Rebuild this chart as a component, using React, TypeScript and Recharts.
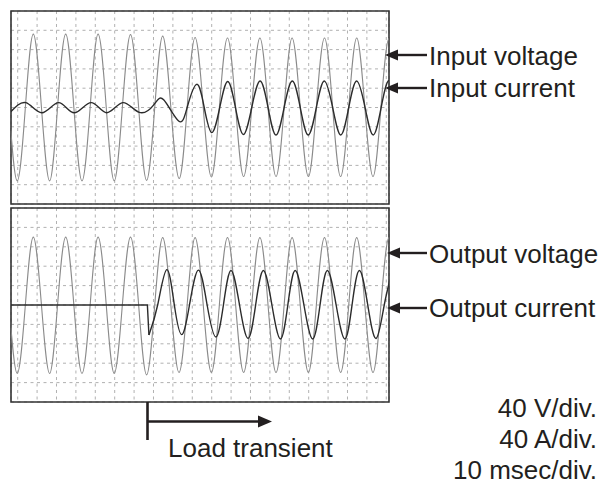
import React from 'react';
import { LineChart, Line, XAxis, YAxis, CartesianGrid, ReferenceArea } from 'recharts';

type Pt = [number, number];

// time in ms (10 ms/div), voltage in V (40 V/div), current in A (40 A/div)
const inputVoltage: Pt[] = [
  [-1.0, 0], [3.2, -152], [7.4, 0], [11.5, 152], [15.7, 0], [19.9, -152], [24.0, 0], [28.2, 152],
  [32.4, 0], [36.6, -152], [40.8, 0], [44.9, 152], [49.1, 0], [53.2, -152], [57.4, 0], [61.6, 151],
  [65.8, 0], [69.9, -151], [74.1, 0], [78.2, 148], [82.4, 0], [86.7, -147], [90.8, 0], [94.9, 145],
  [99.1, 0], [103.3, -144], [107.4, 0], [111.6, 144], [115.8, 0], [119.9, -143], [124.1, 0], [128.3, 144],
  [132.5, 0], [136.6, -143], [140.8, 0], [144.9, 144], [149.1, 0], [153.3, -143], [157.4, 0], [161.6, 144],
  [165.8, 0], [169.9, -143], [174.1, 0], [178.2, 144], [182.4, 0], [186.6, -143], [190.7, 0], [194.9, 143],
  [199.0, 0],
];

const inputCurrent: Pt[] = [
  [-0.6, -11], [7.7, 10], [16.0, -11], [24.6, 10], [32.6, -11], [41.3, 10], [49.3, -11], [57.6, 10],
  [66.1, -10], [73.7, 6], [78.7, 16], [86.4, -28], [90.8, 0], [95.7, 48], [99.6, 0], [103.5, -52],
  [107.6, 0], [111.7, 54], [115.7, 0], [119.8, -56], [124.1, 0], [128.4, 55], [132.5, 0], [136.6, -57],
  [140.8, 0], [145.0, 55], [149.1, 0], [153.2, -57], [157.4, 0], [161.5, 55], [165.8, 0], [170.0, -57],
  [174.1, 0], [178.2, 55], [182.5, 0], [186.7, -57], [190.8, 0], [194.9, 56], [199.0, 0],
];

const outputVoltage: Pt[] = [
  [-1.0, 0], [3.2, -141], [7.4, 0], [11.5, 140], [15.7, 0], [19.9, -141], [24.0, 0], [28.2, 140],
  [32.4, 0], [36.6, -141], [40.8, 0], [44.9, 140], [49.1, 0], [53.2, -141], [57.4, 0], [61.6, 140],
  [65.8, 0], [69.9, -144], [74.1, 0], [78.2, 139], [82.4, 0], [86.6, -139], [90.8, 0], [94.9, 139],
  [99.1, 0], [103.3, -139], [107.4, 0], [111.6, 139], [115.8, 0], [119.9, -139], [124.1, 0], [128.3, 139],
  [132.5, 0], [136.6, -139], [140.8, 0], [144.9, 139], [149.1, 0], [153.3, -139], [157.4, 0], [161.6, 139],
  [165.8, 0], [169.9, -139], [174.1, 0], [178.2, 139], [182.4, 0], [186.6, -139], [190.7, 0], [194.9, 139],
  [199.0, 0],
];

const outputCurrentBefore: Pt[] = [[0, 0], [70.3, 0], [71.1, -62]];

const outputCurrentAfter: Pt[] = [
  [71.1, -62], [75.6, 0], [80.3, 73], [84.2, 0], [88.0, -61], [92.0, 0], [96.6, 72], [101.1, 0],
  [105.6, -66], [109.5, 0], [113.4, 71], [117.8, 0], [122.2, -69], [126.1, 0], [130.1, 71], [134.5, 0],
  [138.9, -70], [142.7, 0], [146.5, 71], [151.0, 0], [155.5, -70], [159.3, 0], [163.1, 71], [167.6, 0],
  [172.1, -70], [175.8, 0], [179.6, 71], [183.9, 0], [188.2, -69], [192.4, 0], [196.5, 70],
];

const timeGridTicks = [
  3.45, 13.45, 23.45, 33.45, 43.45, 53.45, 63.45, 73.45, 83.45, 93.45,
  103.45, 113.45, 123.45, 133.45, 143.45, 153.45, 163.45, 173.45, 183.45, 193.45,
];
const ampGridTicks = [-160, -120, -80, -40, 0, 40, 80, 120, 160];
const timeDomain: [number, number] = [0, 194.85];
const ampDomain: [number, number] = [-200, 200];

const scaleLabels = ['40 V/div.', '40 A/div.', '10 msec/div.'];
const traceLabels = { inV: 'Input voltage', inI: 'Input current', outV: 'Output voltage', outI: 'Output current' };
const transientLabel = 'Load transient';

const toRows = (pts: Pt[]) => pts.map(([t, v]) => ({ t, v }));

const VOLT_COLOR = '#8a8a8a';
const CURR_COLOR = '#2b2b2b';
const INK = '#231f20';
const FONT = "'Liberation Sans', Arial, Helvetica, sans-serif";

type Trace = { data: Pt[]; color: string; width: number; type: 'natural' | 'linear' };

function Scope({ top, height, traces }: { top: number; height: number; traces: Trace[] }) {
  return (
    <div style={{ position: 'absolute', left: 0, top, width: 400, height }}>
      <LineChart width={400} height={height} margin={{ top: 11, right: 11, bottom: 11, left: 11 }}>
        <XAxis type="number" dataKey="t" domain={timeDomain} ticks={timeGridTicks} interval={0} allowDataOverflow hide />
        <YAxis type="number" dataKey="v" domain={ampDomain} ticks={ampGridTicks} interval={0} allowDataOverflow hide />
        <CartesianGrid stroke="#a8a8a8" strokeWidth={0.9} strokeDasharray="3 3.5" />
        {traces.map((tr, i) => (
          <Line
            key={i}
            data={toRows(tr.data)}
            dataKey="v"
            type={tr.type}
            stroke={tr.color}
            strokeWidth={tr.width}
            dot={false}
            activeDot={false}
            isAnimationActive={false}
          />
        ))}
        <ReferenceArea x1={0} x2={194.85} y1={-200} y2={200} fill="none" stroke="#333" strokeWidth={1.6} fillOpacity={0} />
      </LineChart>
    </div>
  );
}

function ArrowLeft({ x1, x2, y }: { x1: number; x2: number; y: number }) {
  return (
    <g>
      <line x1={x1 + 10} y1={y} x2={x2} y2={y} stroke={INK} strokeWidth={2.4} />
      <polygon points={`${x1},${y} ${x1 + 13},${y - 5.5} ${x1 + 13},${y + 5.5}`} fill={INK} />
    </g>
  );
}

export default function App() {
  return (
    <div style={{ position: 'absolute', left: 0, top: 0, width: 603, height: 484, background: '#fff', overflow: 'hidden' }}>
      <Scope
        top={0}
        height={215}
        traces={[
          { data: inputVoltage, color: VOLT_COLOR, width: 1.1, type: 'natural' },
          { data: inputCurrent, color: CURR_COLOR, width: 1.4, type: 'natural' },
        ]}
      />
      <Scope
        top={197}
        height={216}
        traces={[
          { data: outputVoltage, color: VOLT_COLOR, width: 1.1, type: 'natural' },
          { data: outputCurrentBefore, color: CURR_COLOR, width: 1.4, type: 'linear' },
          { data: outputCurrentAfter, color: CURR_COLOR, width: 1.4, type: 'natural' },
        ]}
      />
      <svg width={603} height={484} style={{ position: 'absolute', left: 0, top: 0, pointerEvents: 'none' }}>
        <g fontFamily={FONT} fontSize={26} fill={INK}>
          <ArrowLeft x1={385} x2={427} y={55} />
          <text x={429} y={65}>{traceLabels.inV}</text>
          <ArrowLeft x1={385} x2={427} y={88} />
          <text x={429} y={97}>{traceLabels.inI}</text>
          <ArrowLeft x1={387} x2={427} y={253} />
          <text x={429} y={263}>{traceLabels.outV}</text>
          <ArrowLeft x1={387} x2={427} y={308} />
          <text x={429} y={317}>{traceLabels.outI}</text>

          <line x1={147.5} y1={402} x2={147.5} y2={440} stroke={INK} strokeWidth={2.6} />
          <line x1={147.5} y1={421.5} x2={262} y2={421.5} stroke={INK} strokeWidth={2.4} />
          <polygon points="272,421.5 258,415.5 258,427.5" fill={INK} />
          <text x={168} y={457}>{transientLabel}</text>

          <text x={597} y={417} textAnchor="end">{scaleLabels[0]}</text>
          <text x={597} y={448} textAnchor="end">{scaleLabels[1]}</text>
          <text x={597} y={479} textAnchor="end">{scaleLabels[2]}</text>
        </g>
      </svg>
    </div>
  );
}
